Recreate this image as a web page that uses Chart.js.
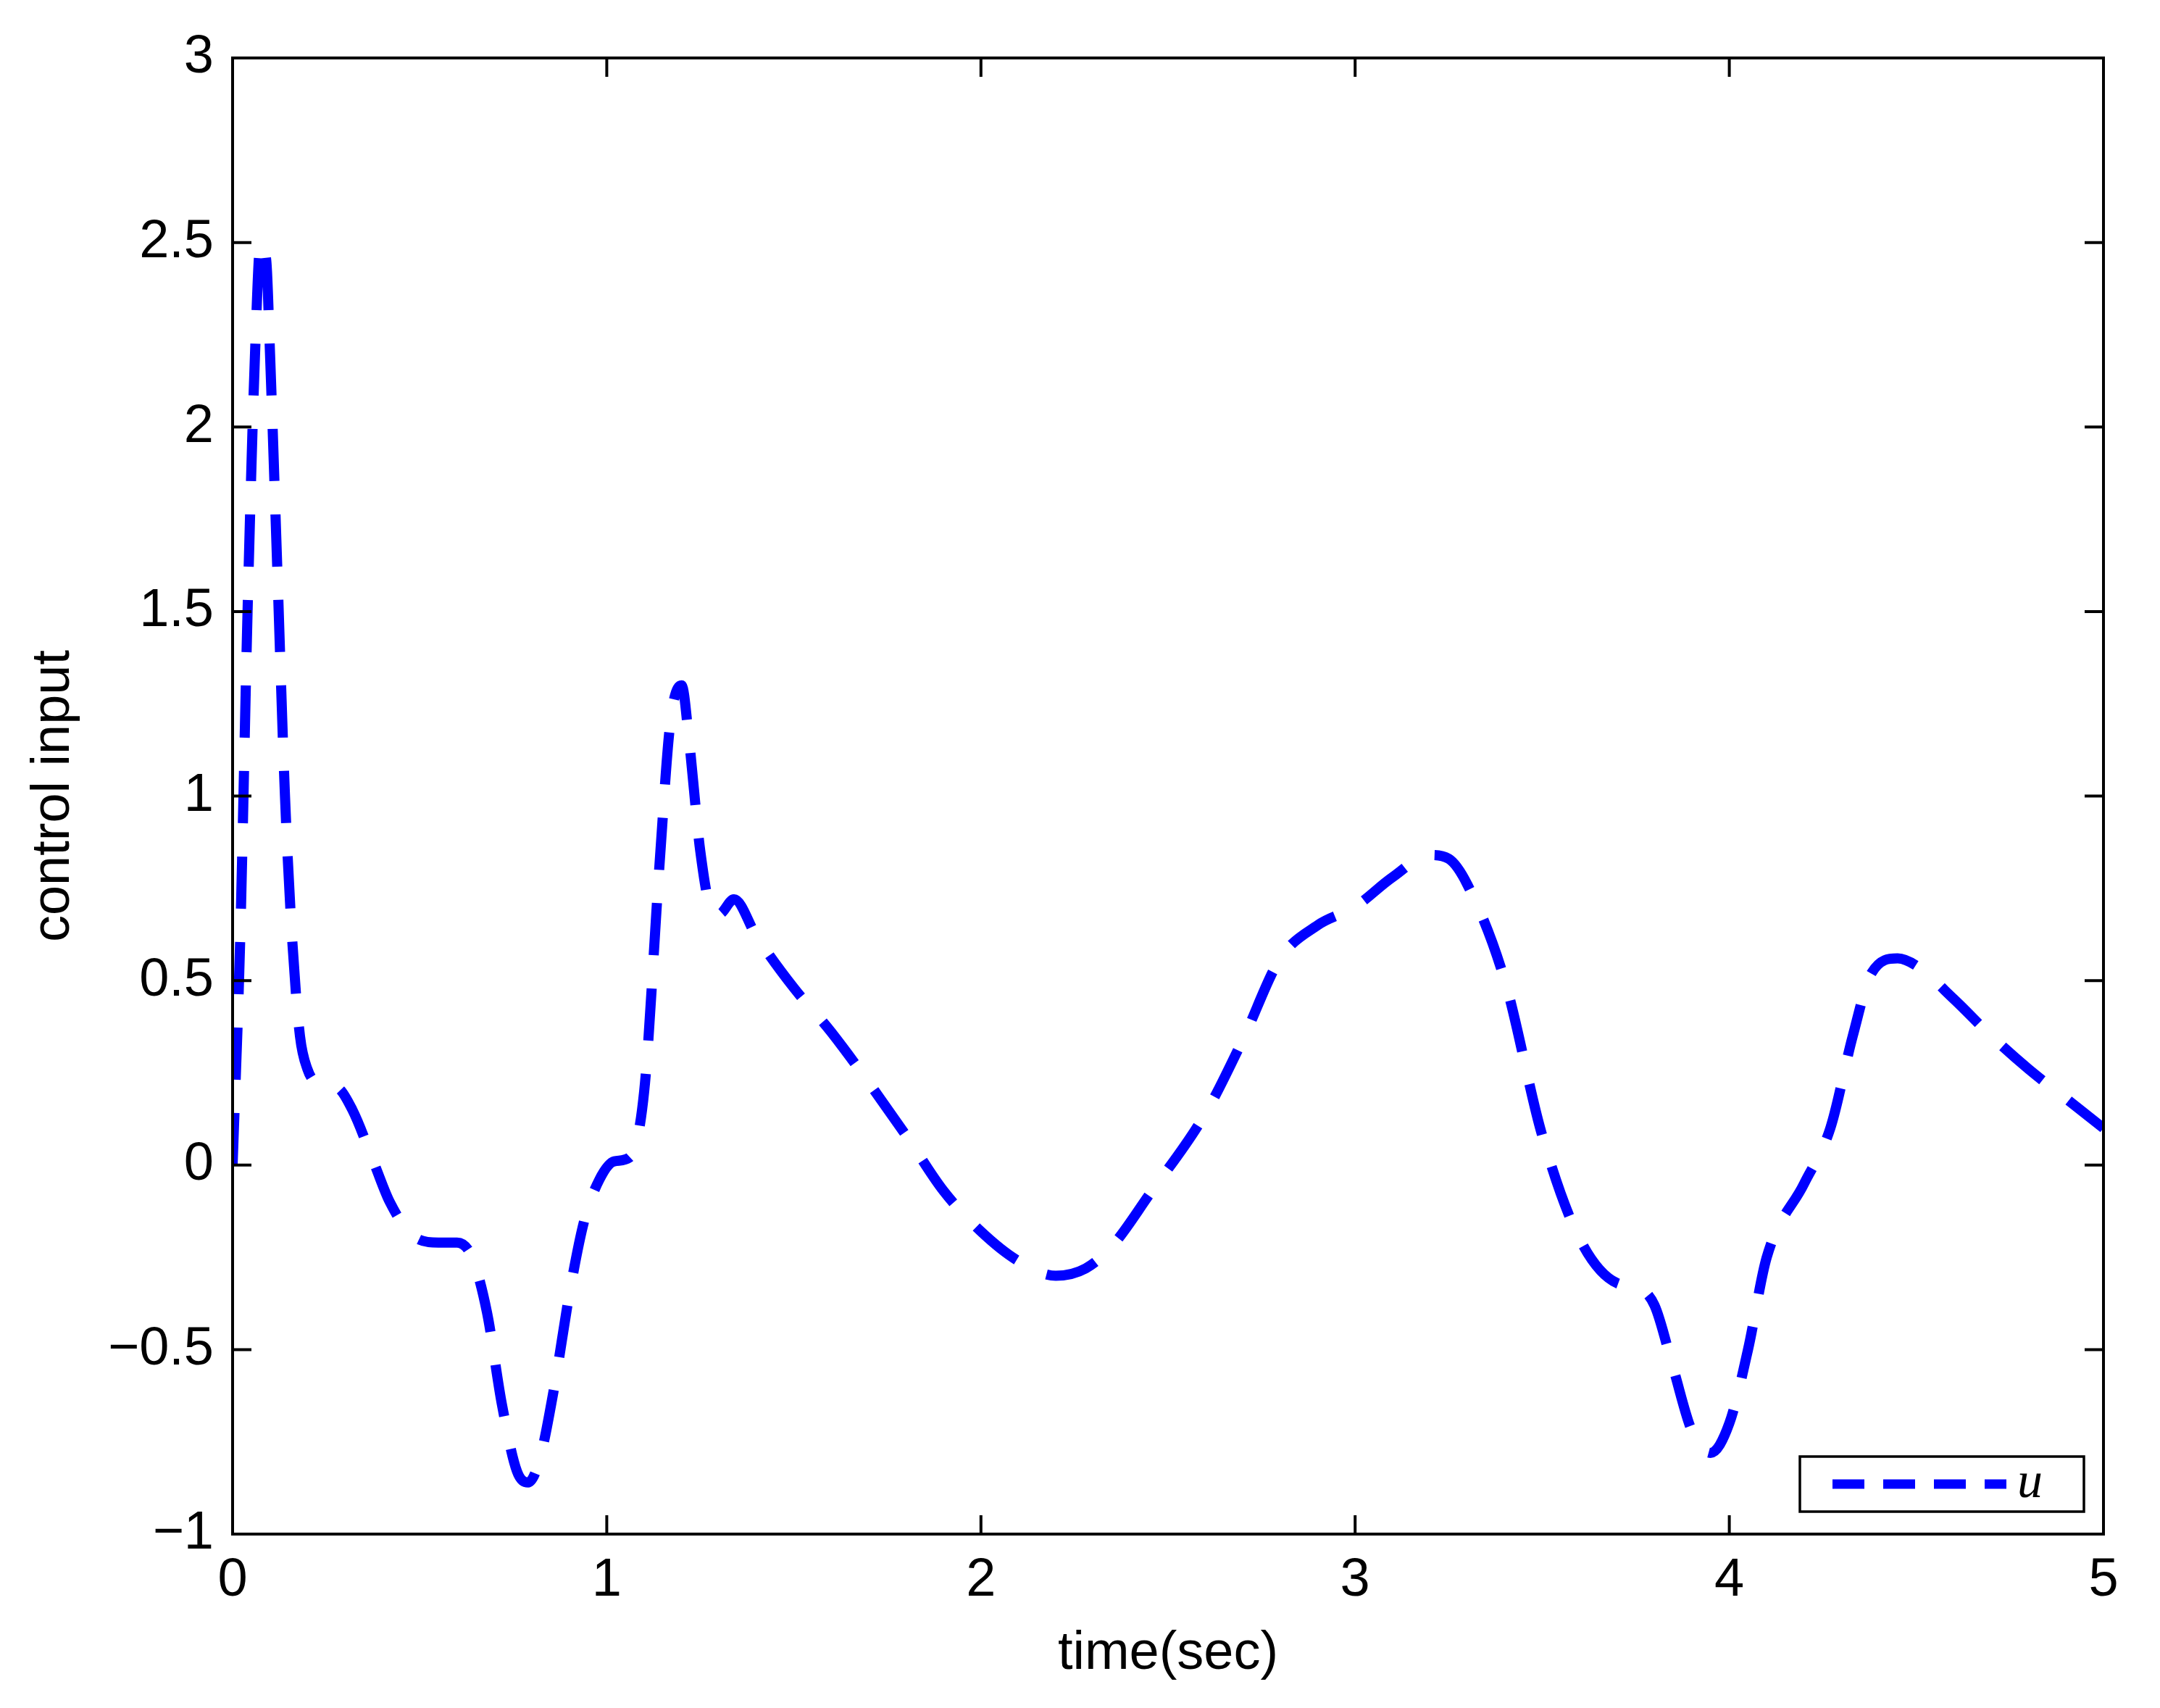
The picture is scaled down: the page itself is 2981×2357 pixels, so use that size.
<!DOCTYPE html>
<html><head><meta charset="utf-8">
<script src="https://cdn.jsdelivr.net/npm/chart.js@4"></script>
<style>html,body{margin:0;padding:0;background:#fff}#c{display:block}</style>
</head><body>
<div style="width:2981px;height:2357px"><canvas id="c"></canvas></div>
<script>
const timeVals=[0,0.02,0.04,0.06,0.075,0.09,0.1,0.12,0.14,0.16,0.18,0.2,0.23,0.28,0.32,0.38,0.42,0.48,0.55,0.6,0.64,0.68,0.72,0.76,0.79,0.82,0.86,0.9,0.94,0.98,1.02,1.06,1.1,1.14,1.17,1.2,1.22,1.25,1.28,1.3,1.34,1.4,1.5,1.6,1.8,1.9,2.0,2.1,2.2,2.28,2.35,2.45,2.6,2.7,2.8,2.9,3.0,3.1,3.2,3.25,3.3,3.4,3.5,3.6,3.7,3.75,3.8,3.85,3.9,3.95,4.0,4.05,4.1,4.2,4.27,4.33,4.38,4.45,4.5,4.6,4.7,4.8,4.9,5.0];
const uVals=[0,0.6,1.5,2.2,2.5,2.45,2.2,1.6,1.0,0.6,0.35,0.26,0.22,0.21,0.15,0,-0.1,-0.19,-0.21,-0.21,-0.25,-0.4,-0.65,-0.83,-0.86,-0.8,-0.6,-0.35,-0.15,-0.04,0.01,0.02,0.2,0.8,1.2,1.3,1.15,0.85,0.69,0.68,0.72,0.62,0.48,0.36,0.08,-0.07,-0.18,-0.26,-0.3,-0.28,-0.22,-0.08,0.14,0.34,0.56,0.65,0.7,0.78,0.84,0.83,0.76,0.5,0.08,-0.2,-0.32,-0.33,-0.38,-0.55,-0.72,-0.78,-0.7,-0.5,-0.25,-0.05,0.1,0.35,0.52,0.56,0.54,0.45,0.35,0.26,0.18,0.1];
const xTicks=[0,1,2,3,4,5];
const yTicks=[-1,-0.5,0,0.5,1,1.5,2,2.5,3];
const FONT='"Liberation Sans", Arial, sans-serif';
const frame={id:'frame',afterDraw(ch){
 const c=ch.ctx,a=ch.chartArea,L=26;
 c.save();c.strokeStyle='#000';c.lineWidth=4;
 c.strokeRect(a.left,a.top,a.right-a.left,a.bottom-a.top);
 const xs=ch.scales.x,ys=ch.scales.y;
 c.beginPath();
 xTicks.forEach(v=>{const p=xs.getPixelForValue(v);c.moveTo(p,a.bottom);c.lineTo(p,a.bottom-L);c.moveTo(p,a.top);c.lineTo(p,a.top+L);});
 yTicks.forEach(v=>{const p=ys.getPixelForValue(v);c.moveTo(a.left,p);c.lineTo(a.left+L,p);c.moveTo(a.right,p);c.lineTo(a.right-L,p);});
 c.stroke();
 const bx=2484,by=2010,bw=392,bh=76;
 c.fillStyle='#fff';c.fillRect(bx,by,bw,bh);c.lineWidth=3.5;c.strokeRect(bx,by,bw,bh);
 c.strokeStyle='#0000ff';c.lineWidth=13;c.setLineDash([44,26]);
 c.beginPath();c.moveTo(bx+45,by+bh/2);c.lineTo(bx+285,by+bh/2);c.stroke();c.setLineDash([]);
 c.fillStyle='#000';c.font='italic 70px "Liberation Serif", serif';c.textBaseline='middle';
 c.fillText('u',bx+300,by+bh/2);
 c.restore();}};
new Chart(document.getElementById('c'),{type:'line',
 data:{datasets:[{data:timeVals.map((t,i)=>({x:t,y:uVals[i]})),borderColor:'#0000ff',borderWidth:14,borderDash:[72,46],pointRadius:0,cubicInterpolationMode:'monotone',fill:false}]},
 options:{responsive:true,maintainAspectRatio:false,animation:false,
  layout:{padding:{top:80,right:78,left:0,bottom:0}},
  plugins:{legend:{display:false},tooltip:{enabled:false}},
  scales:{
   x:{type:'linear',min:0,max:5,afterFit(s){s.height=240;},
    afterBuildTicks(s){s.ticks=xTicks.map(v=>({value:v}));},
    grid:{display:false},border:{display:false},
    ticks:{color:'#000',font:{size:74,family:FONT},padding:12,maxRotation:0},
    title:{display:true,text:'time(sec)',color:'#000',font:{size:74,family:FONT},padding:{top:0,bottom:30}}},
   y:{type:'linear',min:-1,max:3,afterFit(s){s.width=321;},
    afterBuildTicks(s){s.ticks=yTicks.map(v=>({value:v}));},
    grid:{display:false},border:{display:false},
    ticks:{color:'#000',font:{size:74,family:FONT},padding:18,callback:v=>String(v).replace('-','\u2212')},
    title:{display:true,text:'control input',color:'#000',font:{size:74,family:FONT},padding:{top:30,bottom:0}}}}},
 plugins:[frame]});
</script></body></html>
